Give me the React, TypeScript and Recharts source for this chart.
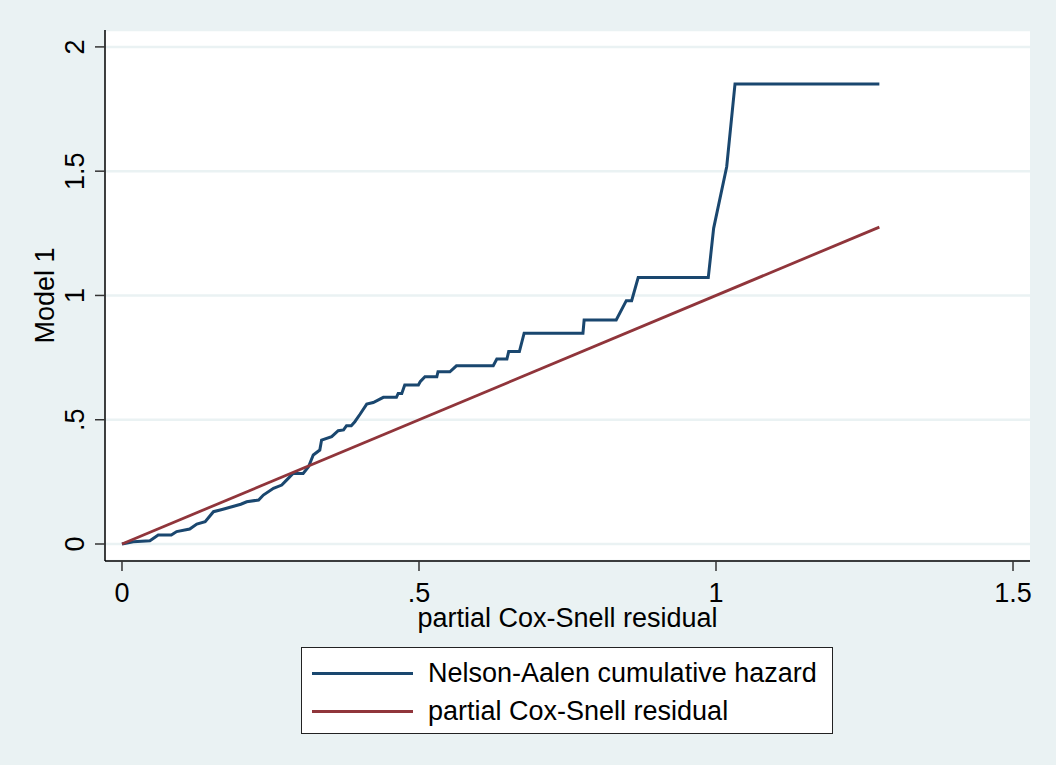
import React from 'react';
import { LineChart, Line, XAxis, YAxis, CartesianGrid, Label } from 'recharts';

// Nelson-Aalen cumulative hazard (step curve)
const hazardX = [
  0, 0.019, 0.047, 0.061, 0.083, 0.092, 0.114, 0.126, 0.14, 0.154, 0.17, 0.185, 0.2, 0.21,
  0.23, 0.238, 0.255, 0.269, 0.277, 0.288, 0.305, 0.314, 0.322, 0.333, 0.336, 0.353, 0.364,
  0.373, 0.378, 0.386, 0.392, 0.401, 0.412, 0.423, 0.44, 0.462, 0.465, 0.471, 0.476, 0.499,
  0.502, 0.51, 0.53, 0.532, 0.552, 0.563, 0.625, 0.631, 0.648, 0.651, 0.669, 0.677, 0.776,
  0.778, 0.832, 0.849, 0.858, 0.869, 0.987, 0.996, 1.018, 1.032, 1.275,
];
const hazardY = [
  0, 0.009, 0.013, 0.036, 0.036, 0.05, 0.06, 0.08, 0.09, 0.13, 0.14, 0.15, 0.16, 0.17,
  0.177, 0.197, 0.224, 0.237, 0.257, 0.284, 0.284, 0.311, 0.358, 0.378, 0.418, 0.432, 0.456,
  0.459, 0.476, 0.476, 0.492, 0.523, 0.563, 0.569, 0.59, 0.59, 0.606, 0.606, 0.64, 0.64,
  0.653, 0.673, 0.673, 0.693, 0.693, 0.717, 0.717, 0.744, 0.744, 0.774, 0.774, 0.848, 0.848,
  0.901, 0.901, 0.979, 0.979, 1.072, 1.072, 1.27, 1.518, 1.851, 1.851,
];

// 45-degree reference line: partial Cox-Snell residual
const residX = [0, 1.275];
const residY = [0, 1.275];

const xTicks = [0, 0.5, 1, 1.5];
const yTicks = [0, 0.5, 1, 1.5, 2];
const tickLabels: Record<string, string> = { '0': '0', '0.5': '.5', '1': '1', '1.5': '1.5', '2': '2' };

const hazardData = hazardX.map((x, i) => ({ x, y: hazardY[i] }));
const residData = residX.map((x, i) => ({ x, y: residY[i] }));

const FONT = '"Liberation Sans", Arial, sans-serif';
const FS = 27;
const BLUE = '#1a476f';
const RED = '#90353b';
const BG = '#eaf2f3';

const XTick = ({ x, y, payload }: any) => (
  <text x={x} y={y + 20} dy="0.35em" textAnchor="middle" fontSize={FS} fontFamily={FONT} fill="#000">
    {tickLabels[String(payload.value)]}
  </text>
);

const YTick = ({ x, y, payload }: any) => {
  const cx = x - 18;
  return (
    <text x={cx} y={y} dy="0.35em" textAnchor="middle" fontSize={FS} fontFamily={FONT} fill="#000"
      transform={`rotate(-90, ${cx}, ${y})`}>
      {tickLabels[String(payload.value)]}
    </text>
  );
};

export default function App() {
  return (
    <div style={{ position: 'absolute', left: 0, top: 0, width: 1056, height: 765, background: BG, fontFamily: FONT }}>
      <LineChart width={1056} height={765} margin={{ top: 30, right: 26, left: 25, bottom: 144 }}>
        <CartesianGrid vertical={false} fill="#fff" stroke={BG} strokeWidth={2.5} />
        <XAxis
          type="number"
          dataKey="x"
          domain={[-0.0286, 1.5286]}
          ticks={xTicks}
          allowDataOverflow
          height={60}
          tickSize={10}
          axisLine={{ stroke: '#000', strokeWidth: 1.5 }}
          tickLine={{ stroke: '#333', strokeWidth: 1.5 }}
          tick={<XTick />}
        >
          <Label
            content={({ viewBox }: any) => (
              <text x={viewBox.x + viewBox.width / 2} y={627} textAnchor="middle" fontSize={FS} fontFamily={FONT} fill="#000">
                partial Cox-Snell residual
              </text>
            )}
          />
        </XAxis>
        <YAxis
          type="number"
          domain={[-0.0684, 2.068]}
          ticks={yTicks}
          allowDataOverflow
          width={80}
          tickSize={10}
          axisLine={{ stroke: '#000', strokeWidth: 1.5 }}
          tickLine={{ stroke: '#333', strokeWidth: 1.5 }}
          tick={<YTick />}
        >
          <Label
            content={({ viewBox }: any) => {
              const cy = viewBox.y + viewBox.height / 2;
              return (
                <text x={45} y={cy} dy="0.35em" textAnchor="middle" fontSize={FS} fontFamily={FONT} fill="#000"
                  transform={`rotate(-90, 45, ${cy})`}>
                  Model 1
                </text>
              );
            }}
          />
        </YAxis>
        <Line data={hazardData} dataKey="y" type="linear" stroke={BLUE} strokeWidth={3} dot={false} isAnimationActive={false} />
        <Line data={residData} dataKey="y" type="linear" stroke={RED} strokeWidth={2.8} dot={false} isAnimationActive={false} />
      </LineChart>
      <div style={{
        position: 'absolute', left: 301, top: 647, width: 532, height: 87,
        background: '#fff', border: '1.5px solid #222', boxSizing: 'border-box',
      }}>
        {[{ label: 'Nelson-Aalen cumulative hazard', color: BLUE, top: 25 }, { label: 'partial Cox-Snell residual', color: RED, top: 63 }].map((it) => (
          <div key={it.label} style={{ position: 'absolute', left: 0, top: it.top - 15, height: 30, display: 'flex', alignItems: 'center' }}>
            <div style={{ marginLeft: 10, width: 101, height: 3, background: it.color }} />
            <span style={{ marginLeft: 15, fontSize: FS, color: '#000', whiteSpace: 'nowrap' }}>{it.label}</span>
          </div>
        ))}
      </div>
    </div>
  );
}
